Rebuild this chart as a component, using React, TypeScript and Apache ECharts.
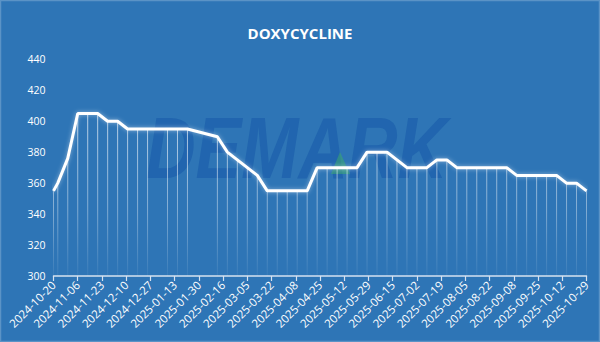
import React, { useEffect, useRef } from "react";
import * as echarts from "echarts";

const TITLE = "DOXYCYCLINE";
const START_DATE = "2024-10-20";
const END_DATE = "2025-10-29";
const TICK_STEP_DAYS = 17;
const Y_MIN = 300;
const Y_MAX = 440;
const Y_STEP = 20;

const dates: string[] = [
  "2024-10-20", "2024-10-23", "2024-10-30", "2024-11-06", "2024-11-13", "2024-11-20",
  "2024-11-27", "2024-12-04", "2024-12-11", "2024-12-18", "2024-12-25",
  "2025-01-08", "2025-01-15", "2025-01-22",
  "2025-02-12", "2025-02-19", "2025-02-26", "2025-03-05", "2025-03-12", "2025-03-19",
  "2025-03-26", "2025-04-02", "2025-04-09", "2025-04-16", "2025-04-23", "2025-04-30",
  "2025-05-07", "2025-05-14", "2025-05-21", "2025-05-28", "2025-06-04", "2025-06-11",
  "2025-06-18", "2025-06-25", "2025-07-02", "2025-07-09", "2025-07-16", "2025-07-23",
  "2025-07-30", "2025-08-06", "2025-08-13", "2025-08-20", "2025-08-27", "2025-09-03",
  "2025-09-10", "2025-09-17", "2025-09-24", "2025-10-01", "2025-10-08", "2025-10-15",
  "2025-10-22", "2025-10-29",
];

const prices: number[] = [
  355, 360, 376, 405, 405, 405,
  400, 400, 395, 395, 395,
  395, 395, 395,
  390, 380, 375, 370, 365, 355,
  355, 355, 355, 355, 370, 370,
  370, 370, 370, 380, 380, 380,
  375, 370, 370, 370, 375, 375,
  370, 370, 370, 370, 370, 370,
  365, 365, 365, 365, 365, 360,
  360, 355,
];

const DAY = 86400000;
const toUTC = (s: string) => {
  const [y, m, d] = s.split("-").map(Number);
  return Date.UTC(y, m - 1, d);
};
const startMs = toUTC(START_DATE);
const dayOffset = (s: string) => Math.round((toUTC(s) - startMs) / DAY);
const fmt = (off: number) => {
  const dt = new Date(startMs + off * DAY);
  const y = dt.getUTCFullYear();
  const m = String(dt.getUTCMonth() + 1).padStart(2, "0");
  const d = String(dt.getUTCDate()).padStart(2, "0");
  return `${y}-${m}-${d}`;
};

export default function App() {
  const ref = useRef<HTMLDivElement>(null);
  useEffect(() => {
    if (!ref.current) return;
    const chart = echarts.init(ref.current, undefined, { renderer: "svg" });
    const points = dates.map((d, i) => [dayOffset(d), prices[i]]);
    const xMax = dayOffset(END_DATE);
    const font = "'Open Sans', 'Noto Sans', sans-serif";
    chart.setOption({
      animation: false,
      backgroundColor: "#2E75B6",
      title: {
        text: TITLE,
        left: "center",
        top: 20,
        textStyle: { color: "#ffffff", fontSize: 15, fontWeight: "bold", fontFamily: font },
      },
      graphic: [
        {
          type: "rect",
          shape: { x: 0.5, y: 0.5, width: 599, height: 341 },
          style: { fill: "none", stroke: "rgba(255,255,255,0.22)", lineWidth: 1.5 },
          silent: true,
          z: -1,
        },
        {
          type: "text",
          x: 146,
          y: 104,
          scaleX: 0.78,
          style: {
            text: "DEMARK",
            fontSize: 88,
            fontWeight: "bold",
            fontStyle: "italic",
            fontFamily: "'Liberation Sans', Arial, sans-serif",
            fill: "rgba(20,85,168,0.5)",
          },
          silent: true,
          z: -1,
        },
        {
          type: "polygon",
          shape: { points: [[340, 152], [331, 174], [350, 174]] },
          style: { fill: "rgba(60,170,110,0.55)" },
          silent: true,
          z: -1,
        },
      ],
      grid: { left: 53.5, right: 13.5, top: 59.3, bottom: 66, containLabel: false },
      xAxis: {
        type: "value",
        min: 0,
        max: xMax,
        interval: TICK_STEP_DAYS,
        axisLine: { show: true, lineStyle: { color: "#D6E2F0", width: 1.5 } },
        axisTick: { show: true, length: 5, lineStyle: { color: "#D6E2F0", width: 1.2 } },
        splitLine: { show: false },
        axisLabel: {
          rotate: 45,
          color: "#ffffff",
          fontSize: 11.5,
          fontFamily: font,
          margin: 7,
          formatter: (v: number) => fmt(v),
          showMinLabel: true,
          showMaxLabel: true,
        },
      },
      yAxis: {
        type: "value",
        min: Y_MIN,
        max: Y_MAX,
        interval: Y_STEP,
        axisLine: { show: false },
        axisTick: { show: false },
        splitLine: { show: false },
        axisLabel: { color: "#ffffff", fontSize: 10.5, fontFamily: font, margin: 8 },
      },
      series: [
        {
          type: "bar",
          data: points,
          barWidth: 1,
          barGap: "-100%",
          itemStyle: {
            color: {
              type: "linear",
              x: 0,
              y: 110,
              x2: 0,
              y2: 276,
              global: true,
              colorStops: [
                { offset: 0, color: "rgba(255,255,255,0.7)" },
                { offset: 0.6, color: "rgba(255,255,255,0.4)" },
                { offset: 1, color: "rgba(255,255,255,0.05)" },
              ],
            },
          },
          z: 2,
        },
        {
          type: "line",
          data: points,
          symbol: "none",
          lineStyle: {
            color: "#ffffff",
            width: 3,
            shadowColor: "rgba(255,255,255,0.45)",
            shadowBlur: 4,
          },
          z: 3,
        },
      ],
    });
    return () => chart.dispose();
  }, []);
  return (
    <div
      ref={ref}
      style={{ position: "fixed", left: 0, top: 0, width: 600, height: 342 }}
    />
  );
}
